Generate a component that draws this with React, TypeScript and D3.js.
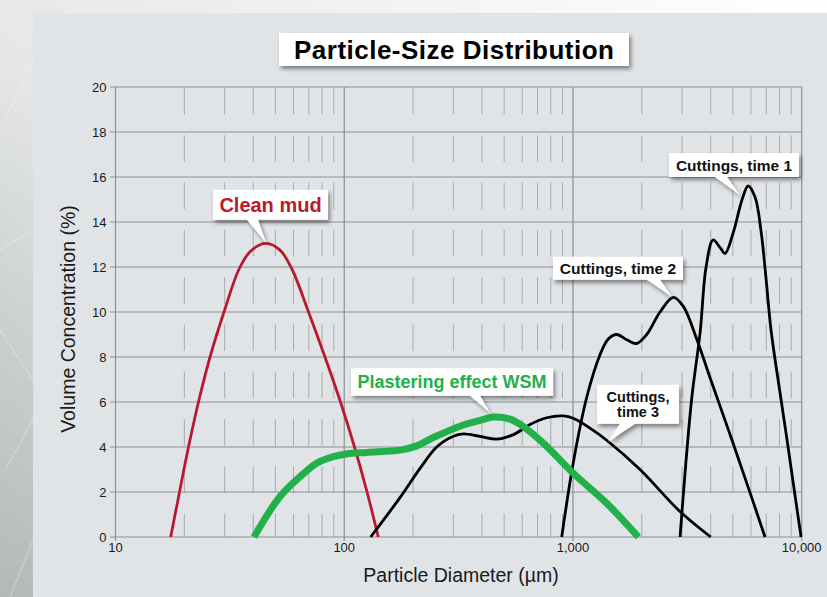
import React from 'react';
import * as d3 from 'd3';

// axis ticks
const xTicks = [10, 100, 1000, 10000];
const xTickLabels = ['10', '100', '1,000', '10,000'];
const yTicks = [0, 2, 4, 6, 8, 10, 12, 14, 16, 18, 20];

// series: particle size (µm) and volume concentration (%)
const cleanMudSize = [17.43, 19.05, 20.85, 23.06, 25.9, 29.81, 34.67, 38.93, 45.36, 52.39, 59.11, 69.8, 82.37, 96.32, 110.9, 125.8, 140.9];
const cleanMudConc = [0, 2, 4, 6, 8, 10, 11.9, 12.7, 13.05, 12.75, 11.9, 10, 8, 6, 4, 2, 0];

const wsmSize = [40.3, 52.4, 64.1, 75.8, 89.6, 102.5, 125.4, 175.3, 207.5, 245.2, 331.6, 392.4, 448.5, 530.5, 606.6, 742, 1003, 1404, 1931];
const wsmConc = [0, 1.8, 2.68, 3.28, 3.57, 3.69, 3.76, 3.86, 4.05, 4.42, 4.98, 5.18, 5.33, 5.24, 4.91, 4.17, 2.83, 1.5, 0];

const time3Size = [130.5, 175.3, 214.5, 253.7, 299.9, 331.6, 392.4, 464.1, 548.6, 648.9, 767.8, 907.4, 1003, 1187, 1404, 1964, 2938, 4001];
const time3Conc = [0, 1.75, 3.05, 4.0, 4.48, 4.58, 4.47, 4.35, 4.55, 5.0, 5.3, 5.38, 5.28, 4.84, 4.3, 3.0, 1.13, 0];

const time2Size = [893, 1003, 1148, 1313, 1427, 1553, 1718, 1900, 2101, 2402, 2746, 3037, 3475, 4000, 5000, 6000, 6911];
const time2Conc = [0, 3.3, 6.2, 8.1, 8.8, 9.0, 8.77, 8.6, 9.0, 10.0, 10.65, 10.25, 8.8, 7.0, 4.2, 1.85, 0];

const time1Size = [2939, 3300, 3595, 3819, 4098, 4398, 4625, 5012, 5488, 5830, 6256, 6640, 6982, 7343, 8125, 8718, 9303, 9938];
const time1Conc = [0, 6.1, 9.07, 12.0, 13.2, 12.86, 12.6, 13.5, 15.0, 15.6, 15.1, 13.6, 11.5, 9.2, 6.1, 4, 2, 0];

const series = [
  { name: 'Clean mud', size: cleanMudSize, conc: cleanMudConc, color: '#b8192f', width: 2.8 },
  { name: 'Cuttings, time 3', size: time3Size, conc: time3Conc, color: '#000', width: 2.8 },
  { name: 'Cuttings, time 2', size: time2Size, conc: time2Conc, color: '#000', width: 2.8 },
  { name: 'Cuttings, time 1', size: time1Size, conc: time1Conc, color: '#000', width: 2.8 },
  { name: 'Plastering effect WSM', size: wsmSize, conc: wsmConc, color: '#22b04b', width: 7 },
];

// callouts: tip anchored at data coords, box given relative to tip (px)
const callouts = [
  { lines: ['Clean mud'], tip: [45.5, 13.08], box: [-53, -53, 115, 30], base: [-19, -8], color: '#b8192f', size: 20 },
  { lines: ['Plastering effect WSM'], tip: [434, 5.52], box: [-139, -45, 202, 28], base: [-20, -10], color: '#22b04b', size: 18 },
  { lines: ['Cuttings,', 'time 3'], tip: [1423, 4.23], box: [-11, -57, 82, 39], base: [12, 27], color: '#111', size: 14.5 },
  { lines: ['Cuttings, time 2'], tip: [2710, 10.68], box: [-119, -40, 130, 23], base: [-25, -12], color: '#111', size: 15.5 },
  { lines: ['Cuttings, time 1'], tip: [5374, 15.2], box: [-71, -42, 130, 24], base: [-25, -13], color: '#111', size: 15.5 },
];

const W = 827;
const H = 597;
const font = '"Liberation Sans", Arial, Helvetica, sans-serif';

export default function App() {
  const x = d3.scaleLog().domain([10, 10000]).range([115.5, 801.7]);
  const y = d3.scaleLinear().domain([0, 20]).range([537, 87]);

  const line = d3
    .line<[number, number]>()
    .x(d => x(d[0]))
    .y(d => y(d[1]))
    .curve(d3.curveCatmullRom.alpha(0.5));

  const minor: number[] = [];
  for (const dec of [10, 100, 1000]) for (let k = 2; k <= 9; k++) minor.push(k * dec);

  const top = y(20);
  const bottom = y(0);

  return (
    <svg width={W} height={H} style={{ position: 'absolute', left: 0, top: 0 }} fontFamily={font}>
      <defs>
        <linearGradient id="bg" x1="1" y1="0" x2="0" y2="1">
          <stop offset="0%" stopColor="#ffffff" />
          <stop offset="55%" stopColor="#e4e6e7" />
          <stop offset="100%" stopColor="#b4b8b9" />
        </linearGradient>
        <filter id="shadow" x="-20%" y="-40%" width="140%" height="190%">
          <feDropShadow dx="2" dy="3" stdDeviation="2.2" floodColor="#000" floodOpacity="0.45" />
        </filter>
      </defs>

      {/* backdrop */}
      <rect width={W} height={H} fill="url(#bg)" />
      {[[0, 130, 33, 60], [0, 330, 33, 380], [5, 470, 33, 420], [0, 250, 33, 230], [10, 597, 33, 540]].map((l, i) => (
        <line key={i} x1={l[0]} y1={l[1]} x2={l[2]} y2={l[3]} stroke="#fff" strokeOpacity={0.45} strokeWidth={0.8} />
      ))}
      <rect x={33} y={13} width={W - 33} height={H - 13} fill="#e1e4e7" />

      {/* minor gridlines */}
      {minor.map(v => (
        <line key={v} x1={x(v)} x2={x(v)} y1={top + 1} y2={bottom} stroke="#a9abad" strokeWidth={1} strokeDasharray="26.5 20.8" />
      ))}
      {/* major gridlines */}
      {yTicks.map(t => (
        <line key={t} x1={x(10) - 5.5} x2={x(10000)} y1={y(t)} y2={y(t)} stroke="#8d8f91" strokeWidth={1.2} />
      ))}
      {xTicks.map(t => (
        <line key={t} x1={x(t)} x2={x(t)} y1={top} y2={bottom + 4} stroke="#8d8f91" strokeWidth={1.2} />
      ))}

      {/* tick labels */}
      {yTicks.map(t => (
        <text key={t} x={106.5} y={y(t)} dy="0.36em" textAnchor="end" fontSize={13} fill="#1a1a1a">
          {t}
        </text>
      ))}
      {xTicks.map((t, i) => (
        <text key={t} x={x(t)} y={552} textAnchor="middle" fontSize={13} fill="#1a1a1a">
          {xTickLabels[i]}
        </text>
      ))}

      {/* axis titles */}
      <text x={461} y={582} textAnchor="middle" fontSize={19.5} fill="#1a1a1a">
        Particle Diameter (µm)
      </text>
      <text transform="translate(75,319) rotate(-90)" textAnchor="middle" fontSize={19.5} fill="#1a1a1a">
        Volume Concentration (%)
      </text>

      {/* curves */}
      {series.map(s => (
        <path
          key={s.name}
          d={line(s.size.map((v, i) => [v, s.conc[i]] as [number, number])) || ''}
          fill="none"
          stroke={s.color}
          strokeWidth={s.width}
          strokeLinejoin="round"
        />
      ))}

      {/* title */}
      <rect x={279} y={33} width={350} height={33} fill="#fff" filter="url(#shadow)" />
      <text x={454} y={59} textAnchor="middle" fontSize={26} fontWeight="bold" fill="#000" textLength={320} lengthAdjust="spacing">
        Particle-Size Distribution
      </text>

      {/* callouts */}
      {callouts.map(c => {
        const tx = x(c.tip[0]);
        const ty = y(c.tip[1]);
        const [bx, by, bw, bh] = c.box;
        const x0 = tx + bx;
        const y0 = ty + by;
        const x1 = x0 + bw;
        const y1 = y0 + bh;
        const bl = tx + c.base[0];
        const br = tx + c.base[1];
        const left = Math.min(bl, br);
        const right = Math.max(bl, br);
        const d = `M${x0},${y0}H${x1}V${y1}H${right}L${tx},${ty}L${left},${y1}H${x0}Z`;
        const lh = c.size + 1;
        const cy = (y0 + y1) / 2 - ((c.lines.length - 1) * lh) / 2;
        return (
          <g key={c.lines.join(' ')}>
            <path d={d} fill="#fff" filter="url(#shadow)" />
            {c.lines.map((t, i) => (
              <text
                key={i}
                x={(x0 + x1) / 2}
                y={cy + i * lh}
                dy="0.36em"
                textAnchor="middle"
                fontSize={c.size}
                fontWeight="bold"
                fill={c.color}
              >
                {t}
              </text>
            ))}
          </g>
        );
      })}
    </svg>
  );
}
